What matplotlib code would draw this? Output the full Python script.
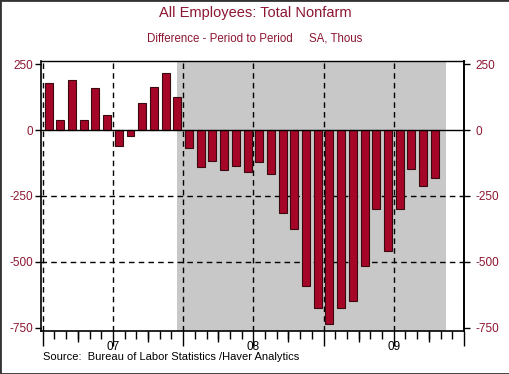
import matplotlib.pyplot as plt
from matplotlib.patches import Rectangle
from matplotlib.ticker import MultipleLocator
from matplotlib.transforms import blended_transform_factory

plt.rcParams['font.family'] = ['Liberation Sans', 'DejaVu Sans']

# monthly change in nonfarm payrolls, Jan 2007 .. Oct 2009 (thousands)
months = list(range(34))
changes = [180, 37, 189, 37, 158, 57, -59, -23, 101, 165, 215, 124,
           -69, -139, -119, -153, -135, -158, -122, -168, -316, -376, -591, -675,
           -736, -675, -649, -514, -298, -457, -299, -149, -213, -183]

# shaded period (month index, from mid Dec 2007)
shade_start = 11.5
shade_end = 34.45

half_year_ticks = [0, 6, 12, 18, 24, 30, 36]
quarter_ticks = [3, 9, 15, 21, 27, 33]
year_pos = [6, 18, 30]
year_labels = ["07", "08", "09"]
y_ticks = [250, 0, -250, -500, -750]

red_text = "#8c1530"
bar_color = "#a50526"

fig = plt.figure(figsize=(5.1, 3.74), dpi=100)
ax = fig.add_axes([41 / 510, 43 / 374, 423 / 510, 270 / 374])

ax.axvspan(shade_start, shade_end, color="#c8c8c8", zorder=0, lw=0)

for x in half_year_ticks:
    ax.axvline(x, color="black", lw=1, ls=(0, (4, 3)), zorder=1)
for y in [-250, -500]:
    ax.axhline(y, color="black", lw=1, ls=(0, (4, 3)), zorder=1)
ax.axhline(0, color="black", lw=1, zorder=3)

ax.bar([m + 0.5 for m in months], changes, width=0.68, color=bar_color,
       edgecolor="#3a0a10", linewidth=0.8, zorder=2)

ax.set_xlim(-0.15, 36.0)
ax.set_ylim(-762, 262)

ax.set_xticks(half_year_ticks)
ax.set_xticklabels([])
ax.xaxis.set_minor_locator(MultipleLocator(1))
ax.tick_params(axis="x", which="major", length=10.5, width=1)
ax.tick_params(axis="x", which="minor", length=5.5, width=1)
sec = ax.secondary_xaxis("bottom")
sec.set_xticks(quarter_ticks)
sec.set_xticklabels([])
sec.tick_params(length=8, width=1)
sec.spines["bottom"].set_visible(False)

trans = blended_transform_factory(ax.transData, fig.transFigure)
for x, lab in zip(year_pos, year_labels):
    ax.text(x, 1 - 347.5 / 374, lab, transform=trans, ha="center", va="center",
            fontsize=8.5, color="black")

ax.set_yticks(y_ticks)
ax.set_yticklabels([f"{v}" for v in y_ticks])
ax.tick_params(axis="y", which="major", length=4, width=1, labelsize=8.5,
               labelcolor=red_text, left=True, right=False, pad=1.5)
rax = ax.secondary_yaxis("right")
rax.set_yticks(y_ticks)
rax.set_yticklabels([f"{v}" for v in y_ticks])
rax.tick_params(length=4, width=1, labelsize=8.5, labelcolor=red_text, pad=4.5)
rax.spines["right"].set_linewidth(1.2)

for sp in ax.spines.values():
    sp.set_linewidth(1.2)
ax.spines["top"].set_linewidth(1)

fig.text(0.5, 1 - 13 / 374, "All Employees: Total Nonfarm", ha="center",
         va="center", fontsize=10.5, color=red_text)
fig.text(0.5, 1 - 38.5 / 374, "Difference - Period to Period     SA, Thous",
         ha="center", va="center", fontsize=8.3, color=red_text)
fig.text(43 / 510, 1 - 357.5 / 374, "Source:  Bureau of Labor Statistics /Haver Analytics",
         ha="left", va="center", fontsize=8, color="black")

fig.patches.append(Rectangle((0, 0), 1, 1, transform=fig.transFigure,
                             fill=False, edgecolor="#333333", lw=2))

fig.savefig("out.png", dpi=100)
